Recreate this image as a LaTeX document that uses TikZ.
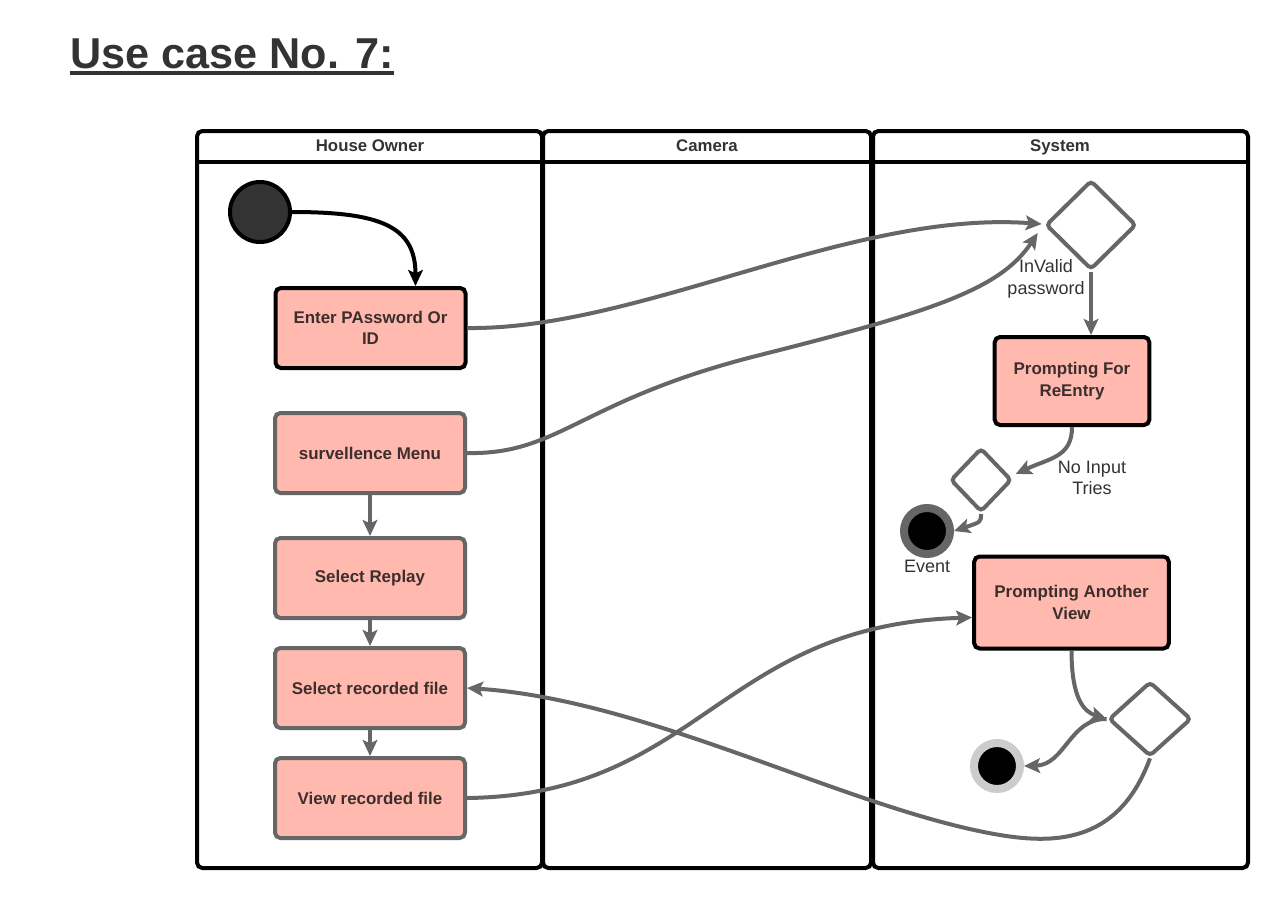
\documentclass[tikz,border=0pt]{standalone}
\usepackage{fontspec}
\setmainfont{Liberation Sans}
\usetikzlibrary{shapes.geometric,arrows.meta,calc}
\definecolor{salmon}{HTML}{FFB9AF}
\definecolor{lgray}{HTML}{666666}
\definecolor{txt}{HTML}{3D2E2E}
\definecolor{ttl}{HTML}{333333}
\definecolor{ringlight}{HTML}{CCCCCC}
\begin{document}
\begin{tikzpicture}[x=0.75pt,y=-0.75pt,
  lane/.style={draw=black,line width=3pt,rounded corners=4pt},
  lanehead/.style={font=\bfseries\fontsize{12.6}{14}\selectfont,text=ttl,anchor=base},
  actbox/.style={rectangle,rounded corners=4pt,fill=salmon,line width=3pt,
    minimum width=142.5pt,minimum height=60pt,align=center,text=txt,
    font=\bfseries\fontsize{12.7}{16}\selectfont,inner sep=2pt},
  blackbox/.style={actbox,draw=black},
  graybox/.style={actbox,draw=lgray},
  decision/.style={diamond,draw=lgray,fill=white,line width=3pt,inner sep=0pt,
    rounded corners=3pt},
  flow/.style={draw=lgray,line width=3pt,-{Stealth[length=12pt,width=11pt,inset=2.5pt]}},
  lbl/.style={font=\fontsize{13.5}{16}\selectfont,text=ttl,align=center},
  endnode/.style={circle,fill=black,line width=6pt,minimum size=34.5pt,inner sep=0pt}
]
\useasboundingbox (0,0) rectangle (1280,900);
\fill[white] (0,0) rectangle (1280,900);

% title
\node[anchor=base west,inner sep=0pt,font=\bfseries\fontsize{32.4}{40}\selectfont,text=ttl] (title) at (70,68) {Use case No. 7:};
\draw[ttl,line width=3pt] ($(title.base west)+(0,5)$) -- ($(title.base east)+(0,5)$);

% lanes
\draw[lane] (197,131) rectangle (542,868);
\draw[lane] (543,131) rectangle (871,868);
\draw[lane] (873,131) rectangle (1248,868);
\draw[line width=3pt] (197,162) -- (1248,162);
\node[lanehead] (h1) at (370,151) {House Owner};
\node[lanehead] (h2) at (707,151) {Camera};
\node[lanehead] (h3) at (1060,151) {System};

% nodes
\node[circle,fill=ttl,draw=black,line width=3pt,minimum size=45pt,inner sep=0pt] (start) at (260,212) {};
\node[blackbox] (enter) at (370.5,328) {Enter PAssword Or\\ID};
\node[graybox] (menu) at (370,453) {survellence Menu};
\node[graybox] (replay) at (370,578) {Select Replay};
\node[graybox] (selfile) at (370,688) {Select recorded file};
\node[graybox] (viewfile) at (370,798) {View recorded file};

\node[decision,minimum width=68pt,minimum height=67pt] (d1) at (1091,225) {};
\node[blackbox,minimum width=116pt,minimum height=66pt] (reentry) at (1072,381) {Prompting For\\ReEntry};
\node[decision,minimum width=46pt,minimum height=48pt] (d2) at (981,480) {};
\node[endnode,draw=lgray] (event) at (927,531) {};
\node[lbl] (eventlbl) at (927,566) {Event};
\node[blackbox,minimum width=146pt,minimum height=69pt] (another) at (1071.5,602.5) {Prompting Another\\View};
\node[decision,minimum width=62pt,minimum height=56pt] (d3) at (1150,719) {};
\node[endnode,draw=ringlight] (final) at (997,766) {};

\node[lbl] (invalid) at (1046,279) {InValid\\password};
\node[lbl] (noinput) at (1092,478) {No Input\\Tries};

% connectors
\draw[flow,draw=black] (start.east) .. controls (380,212) and ($(enter.north)+(45,-60)$) .. ($(enter.north)+(45,0)$);
\draw[flow] (enter.east) .. controls (640,330) and (850,210) .. ($(d1.west)+(-2,-1)$);
\draw[flow] (menu.east) .. controls (560,455) and (580,400) .. (760,355) .. controls (930,312) and (1000,290) .. ($(d1.west)+(-6,8)$);
\draw[flow] (d1.south) -- (d1.south |- reentry.north);
\draw[flow] (reentry.south) .. controls ($(reentry.south)+(0,30)$) and (1050,458) .. ($(d2.east)+(2,-6)$);
\draw[flow] (d2.south) .. controls ($(d2.south)+(0,8)$) .. (event.east);
\draw[flow] (menu.south) -- (replay.north);
\draw[flow] (replay.south) -- (selfile.north);
\draw[flow] (selfile.south) -- (viewfile.north);
\draw[flow] (viewfile.east) .. controls (700,795) and (720,625) .. ($(another.west)+(0,15)$);
\draw[flow] (another.south) .. controls ($(another.south)+(0,50)$) and (1085,712) .. (d3.west);
\draw[flow] (d3.west) .. controls (1070,718) and (1065,765) .. (final.east);
\draw[flow] (d3.south) .. controls (1120,840) and (1060,845) .. (1000,835) .. controls (850,810) and (650,700) .. (selfile.east);
\end{tikzpicture}
\end{document}
